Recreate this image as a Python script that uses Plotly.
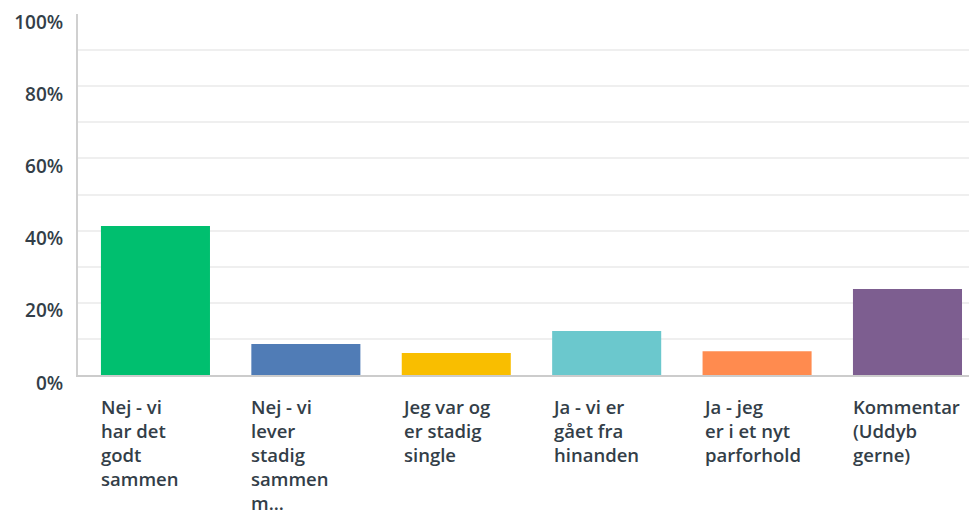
import plotly.graph_objects as go

categories = [
    "Nej - vi<br>har det<br>godt<br>sammen",
    "Nej - vi<br>lever<br>stadig<br>sammen<br>m...",
    "Jeg var og<br>er stadig<br>single",
    "Ja - vi er<br>gået fra<br>hinanden",
    "Ja - jeg<br>er i et nyt<br>parforhold",
    "Kommentar<br>(Uddyb<br>gerne)",
]
values = [41.3, 8.6, 6.1, 12.2, 6.6, 23.8]
colors = ["#00bf6f", "#507cb6", "#f9be00", "#6bc8cd", "#ff8b4f", "#7d5e90"]
ytick_vals = [0, 20, 40, 60, 80, 100]
ytick_text = ["0%", "20%", "40%", "60%", "80%", "100%"]
grid_vals = [10, 20, 30, 40, 50, 60, 70, 80, 90]

BARGAP = 0.275
text_color = "#333e48"
font_family = "Open Sans"

x_idx = list(range(len(categories)))

fig = go.Figure(
    go.Bar(
        x=x_idx,
        y=values,
        marker=dict(color=colors, line=dict(width=0)),
        hoverinfo="skip",
    )
)

half = (1 - BARGAP) / 2
for i, lab in enumerate(categories):
    fig.add_annotation(
        x=i - half,
        xref="x",
        y=0,
        yref="paper",
        yanchor="top",
        xanchor="left",
        align="left",
        xshift=-2,
        yshift=-17,
        text=lab,
        showarrow=False,
        font=dict(family=font_family, size=18.5, color=text_color, weight=600),
    )

fig.update_layout(
    width=969,
    height=517,
    margin=dict(l=78, r=0, t=14, b=142),
    paper_bgcolor="white",
    plot_bgcolor="white",
    bargap=BARGAP,
    showlegend=False,
    xaxis=dict(
        range=[-0.515, 5.409],
        showticklabels=False,
        showgrid=False,
        zeroline=False,
        showline=True,
        linecolor="#cccccc",
        linewidth=2,
        ticks="",
    ),
    yaxis=dict(
        range=[0, 100],
        tickvals=ytick_vals,
        ticktext=ytick_text,
        ticklabelposition="outside",
        ticklabelstandoff=9,
        ticklabelshift=8,
        ticks="",
        tickfont=dict(family=font_family, size=19, color=text_color, weight=600),
        showgrid=False,
        zeroline=False,
        showline=True,
        linecolor="#d0d0d0",
        linewidth=2,
        minor=dict(
            tickvals=grid_vals,
            showgrid=True,
            gridcolor="#efefef",
            gridwidth=2,
            ticks="",
        ),
    ),
)

fig.write_html("out.html")
